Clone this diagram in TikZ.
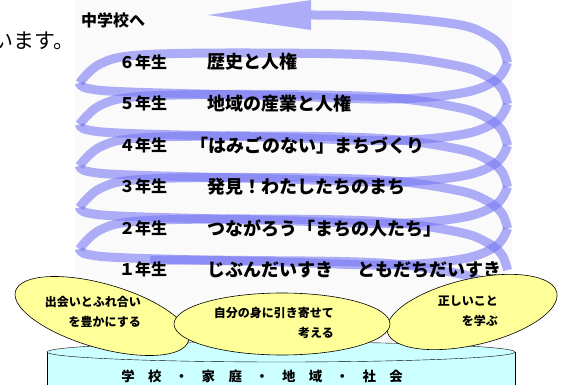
\documentclass[tikz,border=0pt]{standalone}
\usepackage{fontspec}
\usepackage{tikz}
\usetikzlibrary{shapes.geometric}
\newfontfamily\jp{Noto Sans CJK JP}
\definecolor{coilblue}{RGB}{120,120,245}
\definecolor{panelgray}{RGB}{250,250,250}
\definecolor{padyellow}{RGB}{255,255,153}
\definecolor{basecyan}{RGB}{204,255,255}

\begin{document}
\begin{tikzpicture}[
  x=1pt, y=-1pt,
  font=\jp,
  band/.style={draw=coilblue, line width=9pt, opacity=0.6},
  grade/.style={anchor=west, inner sep=0pt, font=\jp\bfseries\fontsize{16}{16}\selectfont},
  topic/.style={anchor=west, inner sep=0pt, font=\jp\bfseries\fontsize{18}{18}\selectfont},
  pad/.style={ellipse, draw=black, line width=0.6pt, fill=padyellow, inner sep=0pt},
  note/.style={anchor=east, align=right, inner sep=0pt, font=\jp\bfseries\fontsize{12}{20}\selectfont}
]
\useasboundingbox (0,0) rectangle (567,385);
\fill[panelgray] (75,0) rectangle (512,350);
% ---- coil: front halves, back halves, arrow on top ----
\foreach \k in {0,...,4} {
  \draw[band, shift={(0,41.5*\k)}] plot[smooth, tension=0.6] coordinates
    {(79.5,83) (88,88.5) (130,92) (280,96) (390,99) (462,93) (496,80) (507.5,62.5)};
}
\foreach \k in {0,...,4} {
  \draw[band, shift={(0,41.5*\k)}] plot[smooth, tension=0.6] coordinates
    {(507.5,104) (502,89) (488,77) (458,66) (380,55.5) (250,53) (140,55) (100,64) (79.5,83)};
}
% lowest turn, runs in behind the pads
\draw[band] plot[smooth, tension=0.6] coordinates
  {(507.5,311.5) (502,296.5) (488,284.5) (458,273.5) (380,263) (250,260.5) (150,260)};
\coordinate (tip) at (208,15);
\draw[band] plot[smooth, tension=0.6] coordinates
  {(507.5,62.5) (502,47.5) (488,35.5) (458,24.5) (380,16.5) (311,15)};
\fill[coilblue, opacity=0.6] (311,0) -- (tip) -- (311,30) -- cycle;
% ---- texts ----
\node[anchor=east, inner sep=0pt, font=\jp\fontsize{21}{21}\selectfont] (intro) at (75,41) {います。};
\node[anchor=west, inner sep=0pt, font=\jp\bfseries\fontsize{16}{16}\selectfont] (goal) at (81,20.5) {中学校へ};
\node[grade] (g6) at (119,62) {６年生};
\node[topic] (t6) at (207,62) {歴史と人権};
\node[grade] (g5) at (119,103.5) {５年生};
\node[topic] (t5) at (207,103.5) {地域の産業と人権};
\node[grade] (g4) at (119,145) {４年生};
\node[topic] (t4) at (190,145) {「はみごのない」まちづくり};
\node[grade] (g3) at (119,186.5) {３年生};
\node[topic] (t3) at (207,186.5) {発見！わたしたちのまち};
\node[grade] (g2) at (119,228) {２年生};
\node[topic] (t2) at (207,228) {つながろう「まちの人たち」};
\node[grade] (g1) at (119,269.5) {１年生};
\node[topic] (t1) at (207,269.5) {じぶんだいすき\hspace{1.35em}ともだちだいすき};
% ---- base ----
\fill[basecyan] (47,352) rectangle (515,386);
\draw (47,352) -- (47,386);
\draw (515,352) -- (515,386);
\draw[fill=basecyan] (281,352) ellipse [x radius=234pt, y radius=10pt];
\node[inner sep=0pt, font=\jp\bfseries\fontsize{13.4}{13.4}\selectfont] (base) at (262,376)
  {学　校　・　家　庭　・　地　域　・　社　会};
% ---- pads ----
\node[pad, minimum width=180pt, minimum height=64pt, rotate=-16] (padL) at (102,316) {};
\node[pad, minimum width=174pt, minimum height=66pt, rotate=13] (padR) at (472,312) {};
\node[pad, minimum width=216pt, minimum height=62pt] (padM) at (282,324) {};
\node[note] (nL) at (141,312) {出会いとふれ合い\\を豊かにする};
\node[note] (nM) at (334,323) {自分の身に引き寄せて\\考える};
\node[note] (nR) at (498,311.5) {正しいこと\\を学ぶ};
\end{tikzpicture}
\end{document}
